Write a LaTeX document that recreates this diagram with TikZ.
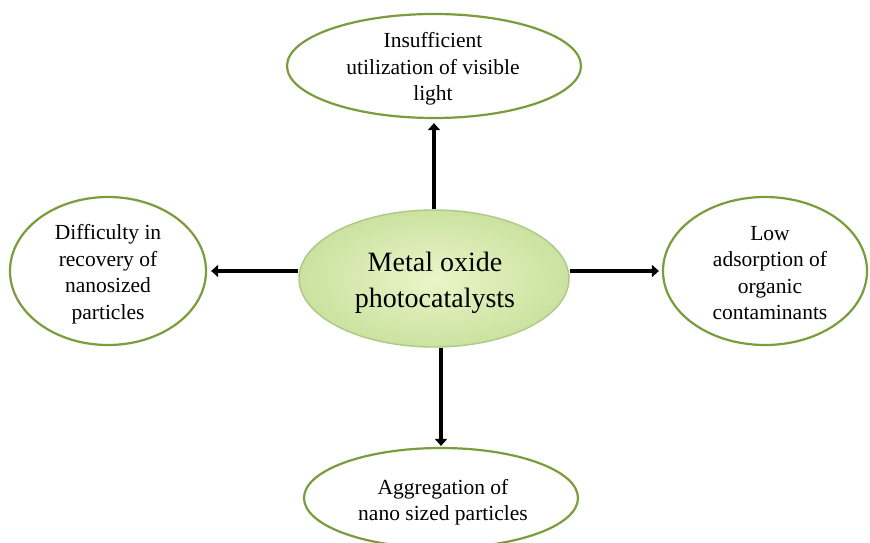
\documentclass[tikz,border=0pt]{standalone}
\usepackage{fontspec}
\setmainfont{Liberation Serif}
\usetikzlibrary{shapes.geometric,arrows.meta}
\definecolor{rimgreen}{HTML}{7A9C3C}
\definecolor{coreedge}{HTML}{ADC985}
\definecolor{coreinner}{HTML}{EAF5C8}
\definecolor{coreouter}{HTML}{CAE2A0}
\tikzset{
  issue/.style={ellipse, draw=rimgreen, line width=2.2pt, fill=white, inner sep=0pt},
  issuetext/.style={inner sep=0pt, align=center, font=\fontsize{21.5}{26.5}\selectfont},
  core/.style={ellipse, draw=coreedge, line width=1.4pt,
    inner color=coreinner, outer color=coreouter,
    minimum width=270pt, minimum height=137pt, inner sep=0pt},
  coretext/.style={inner sep=0pt, align=center, font=\fontsize{28}{36}\selectfont},
  arr/.style={line width=4.5pt, -{Triangle[length=7pt,width=12pt]}}
}
\begin{document}
\begin{tikzpicture}[x=1pt,y=-1pt]
  \useasboundingbox (0,0) rectangle (870,543);
  \clip (0,0) rectangle (870,543);
  \fill[white] (0,0) rectangle (870,543);

  % central problem
  \node[core] (c) at (434,278.5) {};
  \node[coretext] (ct) at (435,283) {Metal oxide\\photocatalysts};

  % the four drawbacks
  \node[issue, minimum width=294pt, minimum height=104pt] (top) at (434,66) {};
  \node[issuetext] (topt) at (433,69) {Insufficient\\utilization of visible\\light};
  \node[issue, minimum width=196pt, minimum height=148pt] (lft) at (108,271) {};
  \node[issuetext] (lftt) at (108,274) {Difficulty in\\recovery of\\nanosized\\particles};
  \node[issue, minimum width=204pt, minimum height=148pt] (rgt) at (765,271) {};
  \node[issuetext] (rgtt) at (770,273) {Low\\adsorption of\\organic\\contaminants};
  \node[issue, minimum width=274pt, minimum height=100pt] (bot) at (441,498) {};
  \node[issuetext] (bott) at (443,502) {Aggregation of\\nano sized particles};

  % arrows from the centre outwards
  \draw[arr, shorten >=4pt] (c) -- (top);
  \draw[arr, shorten >=4pt] (c.west |- lft) -- (lft.east);
  \draw[arr, shorten >=3pt] (c.east |- rgt) -- (rgt.west);
  \draw[arr, shorten >=1pt] (c.south -| bot) -- (bot.north);
\end{tikzpicture}
\end{document}
